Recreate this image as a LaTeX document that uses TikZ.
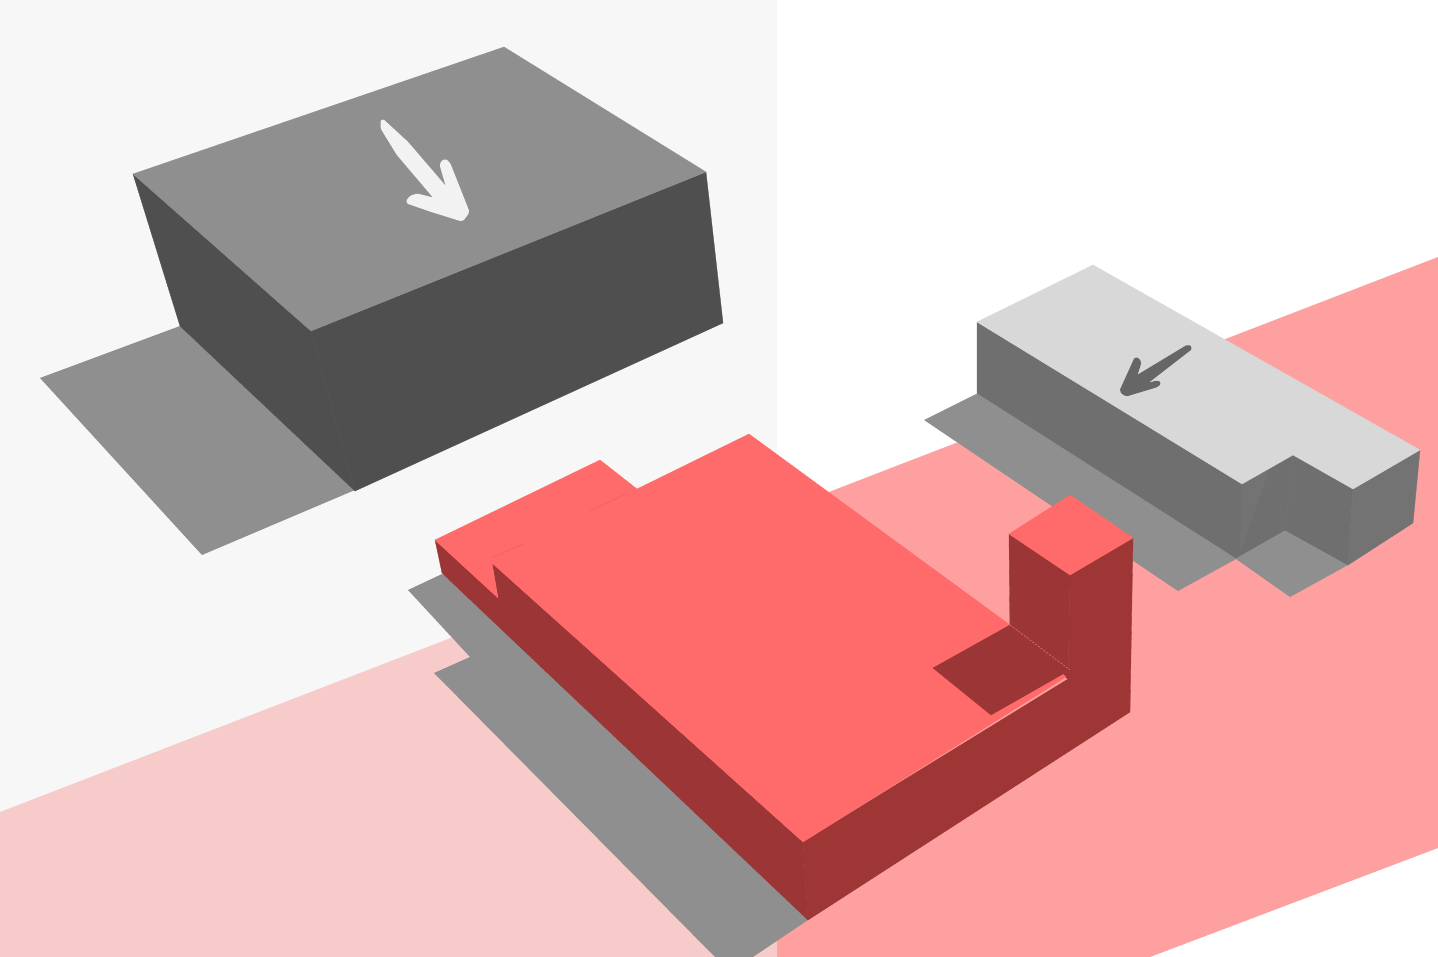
\documentclass[tikz,border=0pt]{standalone}
\begin{document}
\begin{tikzpicture}[x=1pt,y=-1pt,
  face/.style={line width=0.3pt,draw=#1,fill=#1},
  markarrow/.style={fill=#1,draw=#1,line width=3pt,line join=round,rounded corners=1.5pt}]
\definecolor{bgl}{HTML}{F7F7F7}
\definecolor{pinkl}{HTML}{F8CBCB}
\definecolor{pinkr}{HTML}{FFA0A0}
\definecolor{shad}{HTML}{8F8F8F}
\definecolor{boxtop}{HTML}{8F8F8F}
\definecolor{boxside}{HTML}{4F4F4F}
\definecolor{redtop}{HTML}{FF6B6B}
\definecolor{redside}{HTML}{9C3535}
\definecolor{redsideb}{HTML}{9F3636}
\definecolor{grytop}{HTML}{D8D8D8}
\definecolor{gryside}{HTML}{6F6F6F}
\definecolor{grysideb}{HTML}{737373}
\definecolor{arrowlight}{HTML}{F2F2F2}
\definecolor{arrowdark}{HTML}{666666}
\useasboundingbox (0,0) rectangle (1438,957);
\fill[white] (0,0) rectangle (1438,957);
\fill[bgl] (0,0) rectangle (777,957);
% ground band
\fill[pinkl] (0,812) -- (777,512) -- (777,957) -- (0,957) -- cycle;
\fill[pinkr] (777,512) -- (1438,257) -- (1438,848) -- (1150,957) -- (777,957) -- cycle;
% shadows
\fill[shad] (180,326) -- (40,378) -- (202,555) -- (355,490) -- cycle;
\fill[shad] (442,574) -- (408,590) -- (470,657) -- (434,673) -- (715,957) -- (753,957) -- (808,920) -- (800,900) -- (600,700) -- cycle;
\fill[shad] (978,393) -- (924,420) -- (1178,591) -- (1236,559) -- (1290,597) -- (1348,565) -- (1285,529) -- (1100,440) -- cycle;
% big dark box
\fill[face=boxside] (133,174) -- (311,331) -- (355,491) -- (180,326) -- cycle;
\fill[face=boxside] (311,331) -- (706,172) -- (723,323) -- (355,491) -- cycle;
\fill[face=boxtop] (133,174) -- (504,47) -- (706,172) -- (311,331) -- cycle;
% white arrow
\path[markarrow=arrowlight]
  (382,120) -- (407,143) -- (449,192) -- (442,168) -- (441,164) -- (445,160) -- (449,164)
  -- (468,212) -- (462,220) -- (430,210) -- (407,202) -- (411,197) -- (417,195) -- (437,200)
  -- (398,154) -- (382,128) -- cycle;
% grey block
\fill[face=gryside] (977,322) -- (977,393) -- (1236,558) -- (1242,484) -- cycle;
\fill[face=gryside] (1242,484) -- (1293,455) -- (1285,530) -- (1236,558) -- cycle;
\fill[face=grysideb] (1242,484) -- (1270,468) -- (1240,552) -- cycle;
\fill[face=gryside] (1293,455) -- (1353,489) -- (1348,565) -- (1285,530) -- cycle;
\fill[face=grysideb] (1353,489) -- (1420,450) -- (1413,523) -- (1348,565) -- cycle;
\fill[face=grytop] (977,322) -- (1093,265) -- (1420,450) -- (1353,489) -- (1293,455) -- (1242,484) -- cycle;
% grey arrow
\path[markarrow=arrowdark]
  (1188,346) -- (1191,348) -- (1142,386) -- (1157,382) -- (1160,383) -- (1156,386)
  -- (1126,395) -- (1121,391) -- (1136,358) -- (1140,362) -- (1135,378) -- cycle;
% red block
\fill[face=redside] (435,540) -- (442,573) -- (808,920) -- (803,842) -- (492,563) -- (498,598) -- cycle;
\fill[face=redsideb] (803,842) -- (808,920) -- (1130,712) -- (1133,538) -- (1070,575) -- (1068,679) -- cycle;
\fill[face=redside] (1009,534) -- (1070,575) -- (1068,679) -- (1010,640) -- cycle;
\fill[face=redtop] (435,540) -- (600,460) -- (637,489) -- (749,434) -- (1010,625)
  -- (1066,677) -- (803,842) -- (492,563) -- (498,598) -- cycle;
\fill[face=redtop] (1009,534) -- (1070,495) -- (1133,538) -- (1070,575) -- cycle;
\fill[face=redside] (933,668) -- (1010,625) -- (1070,670) -- (991,715) -- cycle;
\draw[redtop!70!pinkr,line width=0.5pt,dash pattern=on 2pt off 1.5pt] (1010,625) -- (1070,670);
\draw[redtop!92!black,line width=0.6pt] (492,558) -- (523,544);
\draw[redtop!92!black,line width=0.6pt] (590,511) -- (626,494);
\end{tikzpicture}
\end{document}
